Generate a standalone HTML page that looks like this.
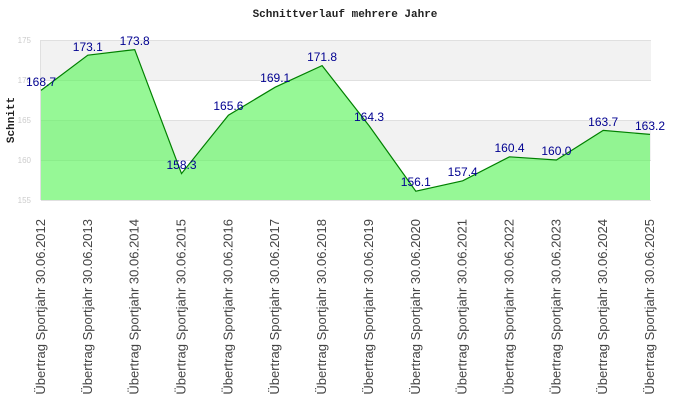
<!DOCTYPE html>
<html><head><meta charset="utf-8"><style>body{margin:0;background:#fff}svg{display:block}</style></head>
<body>
<svg width="690" height="420" xmlns="http://www.w3.org/2000/svg">
<rect width="690" height="420" fill="#fff"/>
<text x="345" y="17" text-anchor="middle" font-family="Liberation Mono, monospace" font-weight="bold" font-size="11" fill="#222">Schnittverlauf mehrere Jahre</text>
<text transform="translate(14,120) rotate(-90)" text-anchor="middle" font-family="Liberation Mono, monospace" font-weight="bold" font-size="11" fill="#222">Schnitt</text>
<rect x="41" y="40" width="610" height="40" fill="#f2f2f2"/>
<rect x="41" y="120" width="610" height="40" fill="#f2f2f2"/>
<g stroke="#e0e0e0" stroke-width="1">
<line x1="41" y1="40.5" x2="651" y2="40.5"/><line x1="41" y1="80.5" x2="651" y2="80.5"/><line x1="41" y1="120.5" x2="651" y2="120.5"/><line x1="41" y1="160.5" x2="651" y2="160.5"/><line x1="41" y1="200.5" x2="651" y2="200.5"/>
<line x1="40.5" y1="40" x2="40.5" y2="200"/>
</g>
<g font-family="Liberation Sans, sans-serif" font-size="8" fill="#ccc" text-anchor="end">
<text x="31" y="43">175</text><text x="31" y="83">170</text><text x="31" y="123">165</text><text x="31" y="163">160</text><text x="31" y="203">155</text>
</g>
<polygon fill="#5ef55e" fill-opacity="0.65" points="41,200 41,90.4 87.8,55.2 134.7,49.6 181.5,173.6 228.4,115.2 275.2,87.2 322.1,65.6 369,125.6 415.8,191.2 462.7,180.8 509.5,156.8 556.4,160 603.2,130.4 650,134.4 650,200"/>
<polyline fill="none" stroke="#008000" stroke-width="1.2" points="41,90.4 87.8,55.2 134.7,49.6 181.5,173.6 228.4,115.2 275.2,87.2 322.1,65.6 369,125.6 415.8,191.2 462.7,180.8 509.5,156.8 556.4,160 603.2,130.4 650,134.4"/>
<g font-family="Liberation Sans, sans-serif" font-size="12" fill="#000090" text-anchor="middle">
<text x="41" y="86">168.7</text><text x="87.8" y="51">173.1</text><text x="134.7" y="45">173.8</text><text x="181.5" y="169">158.3</text><text x="228.4" y="110">165.6</text><text x="275.2" y="82">169.1</text><text x="322.1" y="61">171.8</text><text x="369" y="121">164.3</text><text x="415.8" y="186">156.1</text><text x="462.7" y="176">157.4</text><text x="509.5" y="152">160.4</text><text x="556.4" y="155">160.0</text><text x="603.2" y="126">163.7</text><text x="650" y="130">163.2</text>
</g>
<g font-family="Liberation Sans, sans-serif" font-size="13" fill="#444" text-anchor="end">
<text transform="translate(45,219) rotate(-90)">Übertrag Sportjahr 30.06.2012</text>
<text transform="translate(91.8,219) rotate(-90)">Übertrag Sportjahr 30.06.2013</text>
<text transform="translate(138.7,219) rotate(-90)">Übertrag Sportjahr 30.06.2014</text>
<text transform="translate(185.5,219) rotate(-90)">Übertrag Sportjahr 30.06.2015</text>
<text transform="translate(232.4,219) rotate(-90)">Übertrag Sportjahr 30.06.2016</text>
<text transform="translate(279.2,219) rotate(-90)">Übertrag Sportjahr 30.06.2017</text>
<text transform="translate(326.1,219) rotate(-90)">Übertrag Sportjahr 30.06.2018</text>
<text transform="translate(373,219) rotate(-90)">Übertrag Sportjahr 30.06.2019</text>
<text transform="translate(419.8,219) rotate(-90)">Übertrag Sportjahr 30.06.2020</text>
<text transform="translate(466.7,219) rotate(-90)">Übertrag Sportjahr 30.06.2021</text>
<text transform="translate(513.5,219) rotate(-90)">Übertrag Sportjahr 30.06.2022</text>
<text transform="translate(560.4,219) rotate(-90)">Übertrag Sportjahr 30.06.2023</text>
<text transform="translate(607.2,219) rotate(-90)">Übertrag Sportjahr 30.06.2024</text>
<text transform="translate(654,219) rotate(-90)">Übertrag Sportjahr 30.06.2025</text>
</g>
</svg>
</body></html>
